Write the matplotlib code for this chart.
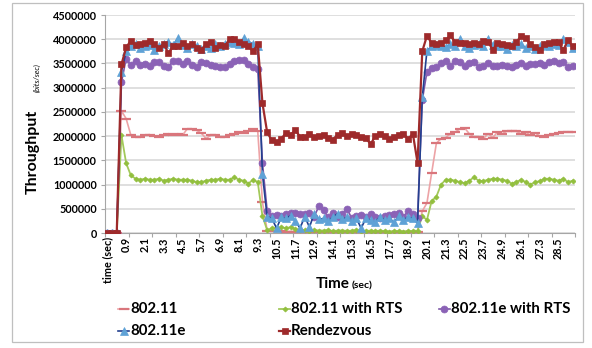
import matplotlib
matplotlib.use("Agg")
import matplotlib.pyplot as plt
from matplotlib.lines import Line2D
from matplotlib.patches import Rectangle
import numpy as np

plt.rcParams['font.family'] = ['Lato', 'DejaVu Sans']

# ---- categories ----
time_labels = ["time (sec)"] + [f"{0.3 * k:.1f}" for k in range(99)]

# ---- series values (bits/sec, in millions) ----
s80211 = ([0, 0, 0,
           2.52, 2.36, 2.02, 1.98, 1.98, 2.02, 2.03, 2.00, 1.98, 2.02,
           2.05, 2.03, 2.05, 2.02, 2.15, 2.14, 2.12, 2.06, 1.95, 2.02,
           2.02, 1.98, 1.98, 2.03, 2.05, 2.08, 2.07, 2.10, 2.15, 2.10,
           0.64, 0.05,
           0.05, 0.04, 0.04, 0.03, 0.03, 0.03, 0.02, 0.02, 0.03, 0.03,
           0.04, 0.03, 0.02, 0.03, 0.03, 0.04, 0.03, 0.03, 0.02, 0.03,
           0.03, 0.02, 0.03, 0.03, 0.03, 0.02, 0.03, 0.03, 0.03, 0.03,
           0.03, 0.03,
           0.45, 0.62, 1.24, 1.85, 1.95, 1.97, 2.05, 2.08, 2.15, 2.17,
           2.05, 1.98, 1.98, 1.95, 2.05, 1.97, 2.08, 2.05, 2.10, 2.10,
           2.10, 2.05, 2.08, 2.02, 2.07, 2.00, 1.98, 2.02, 2.05, 2.07,
           2.08, 2.09, 2.08])

s80211_rts = ([0, 0, 0,
               2.02, 1.44, 1.19, 1.12, 1.10, 1.12, 1.10, 1.10, 1.12, 1.08,
               1.10, 1.12, 1.10, 1.10, 1.10, 1.08, 1.05, 1.05, 1.08, 1.10,
               1.10, 1.12, 1.10, 1.10, 1.15, 1.10, 1.08, 1.02, 1.10, 1.05,
               0.35, 0.06,
               0.10, 0.10, 0.12, 0.10, 0.12, 0.08, 0.07, 0.06, 0.05, 0.06,
               0.05, 0.05, 0.06, 0.04, 0.05, 0.05, 0.04, 0.05, 0.06, 0.05,
               0.04, 0.05, 0.04, 0.05, 0.04, 0.03, 0.04, 0.04, 0.03, 0.04,
               0.04, 0.05,
               0.35, 0.27, 0.66, 0.75, 1.00, 1.10, 1.10, 1.08, 1.05, 1.03,
               1.08, 1.15, 1.08, 1.07, 1.10, 1.12, 1.12, 1.10, 1.08, 1.02,
               1.05, 1.10, 1.05, 1.00, 1.05, 1.07, 1.12, 1.12, 1.10, 1.08,
               1.12, 1.05, 1.08])

s80211e_rts = ([0, 0, 0,
                3.11, 3.60, 3.46, 3.55, 3.47, 3.48, 3.45, 3.52, 3.52, 3.45,
                3.43, 3.55, 3.56, 3.48, 3.55, 3.47, 3.42, 3.52, 3.50, 3.46,
                3.44, 3.42, 3.43, 3.48, 3.55, 3.57, 3.58, 3.48, 3.42, 3.38,
                1.44, 0.46,
                0.35, 0.38, 0.35, 0.40, 0.42, 0.42, 0.40, 0.40, 0.42, 0.34,
                0.55, 0.47, 0.32, 0.42, 0.34, 0.40, 0.50, 0.30, 0.36, 0.38,
                0.32, 0.40, 0.34, 0.30, 0.35, 0.38, 0.40, 0.42, 0.34, 0.45,
                0.40, 0.30,
                2.74, 3.33, 3.40, 3.42, 3.50, 3.55, 3.45, 3.55, 3.53, 3.45,
                3.50, 3.52, 3.43, 3.44, 3.50, 3.44, 3.45, 3.47, 3.45, 3.43,
                3.47, 3.51, 3.45, 3.48, 3.48, 3.50, 3.47, 3.52, 3.56, 3.50,
                3.53, 3.43, 3.45])

s80211e = ([0, 0, 0,
            3.32, 3.75, 3.85, 3.90, 3.82, 3.85, 3.88, 3.78, 3.85, 3.90,
            3.95, 3.88, 4.02, 3.88, 3.82, 3.90, 3.87, 3.80, 3.85, 3.82,
            3.90, 3.85, 3.90, 3.95, 3.92, 3.90, 4.02, 3.95, 3.90, 3.85,
            1.21, 0.34,
            0.30, 0.10, 0.32, 0.30, 0.36, 0.25, 0.10, 0.34, 0.12, 0.40,
            0.28, 0.30, 0.25, 0.33, 0.40, 0.28, 0.33, 0.25, 0.30, 0.10,
            0.30, 0.27, 0.22, 0.34, 0.27, 0.30, 0.22, 0.35, 0.27, 0.33,
            0.30, 0.20,
            2.80, 3.76, 3.85, 3.88, 3.86, 3.84, 3.90, 3.85, 4.00, 3.86,
            3.82, 3.88, 3.90, 3.85, 4.00, 3.88, 3.86, 3.85, 3.80, 3.88,
            3.85, 3.90, 3.82, 3.86, 3.80, 3.85, 3.88, 3.85, 3.90, 3.88,
            4.01, 3.95, 3.82])

rendezvous = ([0, 0, 0,
               3.48, 3.83, 3.97, 3.88, 3.90, 3.93, 3.97, 3.90, 3.82, 3.90,
               3.71, 3.85, 3.85, 3.92, 3.85, 3.90, 3.82, 3.78, 3.90, 3.95,
               3.82, 3.88, 3.86, 4.00, 4.00, 3.95, 3.90, 3.85, 3.75, 3.90,
               2.68, 2.08,
               1.91, 1.88, 1.95, 2.06, 2.03, 2.12, 1.99, 1.98, 2.05, 1.99,
               2.00, 2.03, 1.97, 1.93, 2.03, 2.07, 2.00, 2.04, 2.03, 1.98,
               1.97, 1.83, 2.00, 2.04, 2.01, 1.94, 1.99, 2.02, 2.05, 1.94,
               2.05, 1.45,
               3.75, 4.07, 3.92, 3.90, 3.92, 3.98, 4.08, 3.94, 3.93, 3.92,
               3.90, 3.92, 3.90, 3.97, 3.95, 3.78, 3.92, 3.90, 3.89, 3.87,
               3.94, 4.06, 4.02, 3.90, 3.84, 3.77, 3.90, 3.92, 3.94, 3.94,
               3.77, 3.98, 3.85])

series_names = ["802.11", "802.11 with RTS", "802.11e with RTS", "802.11e", "Rendezvous"]
y_ticks = [0, 500000, 1000000, 1500000, 2000000, 2500000, 3000000, 3500000, 4000000, 4500000]

for s in (s80211, s80211_rts, s80211e_rts, s80211e, rendezvous):
    assert len(s) == len(time_labels), len(s)

# ---- styles ----
styles = {
    "802.11": dict(color="#EDA3A6", marker="_", ms=7, mfc="#D9767C", mec="#D9767C", mew=1.6, lw=1.2),
    "802.11 with RTS": dict(color="#A3C95A", marker="D", ms=2.6, mfc="#92BF3E", mec="#92BF3E", mew=0.5, lw=1.3),
    "802.11e with RTS": dict(color="#7E57A8", marker="o", ms=5, mfc="#8B62B6", mec="#8B62B6", mew=0.5, lw=1.2),
    "802.11e": dict(color="#23408F", marker="^", ms=6, mfc="#5FA2D6", mec="#5FA2D6", mew=0.5, lw=1.2),
    "Rendezvous": dict(color="#9E2A2B", marker="s", ms=4, mfc="#9E2A2B", mec="#9E2A2B", mew=0.5, lw=1.6),
}

fig = plt.figure(figsize=(5.92, 3.48), dpi=100)
ax = fig.add_axes([105 / 592, 1 - 233 / 348, (575 - 105) / 592, (233 - 15) / 348])

x = np.arange(len(time_labels))
data = [s80211, s80211_rts, s80211e_rts, s80211e, rendezvous]
for name, vals in zip(series_names, data):
    ax.plot(x, np.array(vals) * 1e6, label=name, **styles[name], zorder=3)

ax.set_xlim(-0.5, len(time_labels) - 0.5)
ax.set_ylim(0, 4500000)
ax.set_yticks(y_ticks)
ax.set_yticklabels([str(v) for v in y_ticks], fontsize=7.8, fontweight="bold")
ax.yaxis.grid(True, color="#D9D9D9", lw=1.2)
ax.set_axisbelow(True)

# category tick marks every 5 categories (at boundaries), labels every 4
ax.set_xticks(np.arange(-0.5, len(time_labels), 5))
ax.set_xticklabels([])
label_idx = list(range(0, len(time_labels), 4))
ax.set_xticks(label_idx, minor=True)
ax.set_xticklabels([time_labels[i] for i in label_idx], minor=True, rotation=90,
                   fontsize=7.8, fontweight="bold")
ax.tick_params(axis="x", which="major", length=3, color="#A6A6A6", width=0.8, direction="out")
ax.tick_params(axis="x", which="minor", length=0, pad=3)
ax.tick_params(axis="y", length=3, color="#A6A6A6", width=0.8, pad=3)

for sp in ("top", "right"):
    ax.spines[sp].set_visible(False)
for sp in ("left", "bottom"):
    ax.spines[sp].set_color("#A6A6A6")
    ax.spines[sp].set_linewidth(0.8)

# axis titles
fig.text(350 / 592, 1 - 288 / 348, "Time", ha="right", va="baseline", fontsize=11, fontweight="bold")
fig.text(352 / 592, 1 - 288 / 348, "(sec)", ha="left", va="baseline", fontsize=7.5, fontweight="bold")
fig.text(40 / 592, 1 - 152 / 348, "Throughput", rotation=90, ha="right", va="center",
         fontsize=11.5, fontweight="bold")
fig.text(41 / 592, 1 - 78 / 348, "(bits/sec)", rotation=90, ha="right", va="center",
         fontsize=5.5, fontstyle="italic")

# legend (manual layout, two rows x three columns)
legend_pos = {
    "802.11": (118, 309),
    "802.11 with RTS": (279, 309),
    "802.11e with RTS": (439, 309),
    "802.11e": (118, 331),
    "Rendezvous": (279, 331),
}
for name in series_names:
    px, py = legend_pos[name]
    st = styles[name]
    fx0, fx1 = px / 592, (px + 11) / 592
    fy = 1 - py / 348
    fig.add_artist(Line2D([fx0, fx1], [fy, fy], transform=fig.transFigure, color=st["color"], lw=st["lw"]))
    fig.add_artist(Line2D([(fx0 + fx1) / 2], [fy], transform=fig.transFigure, marker=st["marker"],
                          ms=st["ms"], mfc=st["mfc"], mec=st["mec"], mew=st["mew"], lw=0))
    fig.text((px + 12) / 592, fy, name, ha="left", va="center", fontsize=10.8, fontweight="bold")

# outer chart border
fig.add_artist(Rectangle((12 / 592, 1 - 342 / 348), (583 - 12) / 592, (342 - 3) / 348,
                         transform=fig.transFigure, fill=False, ec="#BFBFBF", lw=0.9))

fig.savefig("out.png", dpi=100)
